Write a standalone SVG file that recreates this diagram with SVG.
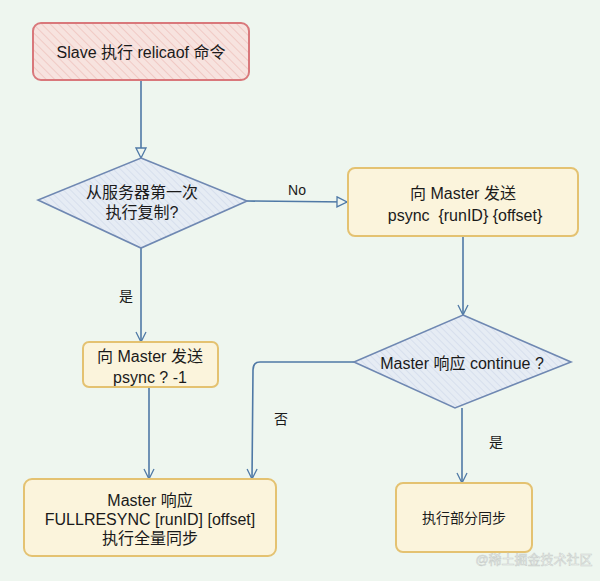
<svg xmlns="http://www.w3.org/2000/svg" width="600" height="581" viewBox="0 0 600 581">
<defs>
<pattern id="hRed" patternUnits="userSpaceOnUse" width="6" height="6" patternTransform="rotate(-45)">
<rect width="6" height="6" fill="#f7e3df"/>
<line x1="0" y1="0" x2="0" y2="6" stroke="#ecb9b4" stroke-width="1.2"/>
</pattern>
<pattern id="hBlue" patternUnits="userSpaceOnUse" width="5" height="5" patternTransform="rotate(-45)">
<rect width="5" height="5" fill="#e6ecf4"/>
<line x1="0" y1="0" x2="0" y2="5" stroke="#c8d3e6" stroke-width="1"/>
</pattern>
<marker id="arr" viewBox="0 0 12 12" refX="11" refY="6" markerWidth="12" markerHeight="12" markerUnits="userSpaceOnUse" orient="auto">
<path d="M1,1 L11,6 L1,11 Z" fill="#eef5ef" stroke="#4f79a6" stroke-width="1.3"/>
</marker>
<marker id="arr2" viewBox="0 0 12 12" refX="11" refY="6" markerWidth="12" markerHeight="12" markerUnits="userSpaceOnUse" orient="auto">
<path d="M1,1 L11,6 L1,11" fill="none" stroke="#4f79a6" stroke-width="1.3"/>
</marker>
</defs>
<style>
text{font-family:"Liberation Sans","Noto Sans CJK SC",sans-serif;font-size:16px;fill:#1a1a1a;text-anchor:middle}
.y{fill:#fbf4dc;stroke:#e4c271;stroke-width:2}
.d{fill:url(#hBlue);stroke:#6f88b2;stroke-width:1.6}
.c{fill:none;stroke:#4f79a6;stroke-width:1.6}
.lbl{font-size:14px}
</style>
<rect width="600" height="581" fill="#eef6ef"/>
<g id="connectors">
<path class="c" d="M141,80 L141,158" marker-end="url(#arr)"/>
<path class="c" d="M247,201 L347,202" marker-end="url(#arr)"/>
<path class="c" d="M141,248 L141,342" marker-end="url(#arr2)"/>
<path class="c" d="M149,388 L149,479" marker-end="url(#arr2)"/>
<path class="c" d="M463,237 L463,315" marker-end="url(#arr2)"/>
<path class="c" d="M462,408 L462,483" marker-end="url(#arr2)"/>
<path class="c" d="M354,362 L260,362 Q253,362 253,370 L252,479" marker-end="url(#arr2)"/>
<text class="lbl" x="297" y="195">No</text>
<text class="lbl" x="126" y="301">是</text>
<text class="lbl" x="281" y="424">否</text>
<text class="lbl" x="496" y="447">是</text>
</g>
<g id="start">
<rect x="33" y="23" width="216" height="57" rx="8" fill="url(#hRed)" stroke="#d9787b" stroke-width="2"/>
<text x="141" y="58">Slave 执行 relicaof 命令</text>
</g>
<g id="decision1">
<polygon class="d" points="141,158 247,201 141,248 38,200"/>
<text x="142" y="198">从服务器第一次</text>
<text x="142" y="218">执行复制?</text>
</g>
<g id="psyncRun">
<rect class="y" x="348" y="168" width="230" height="68" rx="7"/>
<text x="463" y="199">向 Master 发送</text>
<text x="465" y="221" xml:space="preserve">psync  {runID} {offset}</text>
</g>
<g id="decision2">
<polygon class="d" points="463,315 571,362 455,408 354,362"/>
<text x="462" y="369">Master 响应 continue ?</text>
</g>
<g id="psyncFull">
<rect class="y" x="83" y="342" width="135" height="45" rx="6"/>
<text x="150" y="362">向 Master 发送</text>
<text x="150" y="383">psync ? -1</text>
</g>
<g id="fullSync">
<rect class="y" x="24" y="479" width="252" height="77" rx="8"/>
<text x="150" y="506">Master 响应</text>
<text x="150" y="525">FULLRESYNC [runID] [offset]</text>
<text x="150" y="544">执行全量同步</text>
</g>
<g id="partialSync">
<rect class="y" x="396" y="483" width="136" height="69" rx="7"/>
<text x="464" y="523" style="font-size:14px">执行部分同步</text>
</g>
<text x="534" y="564" style="font-size:13px;fill:#ffffff;stroke:#c9cfcb;stroke-width:0.6">@稀土掘金技术社区</text>
</svg>
